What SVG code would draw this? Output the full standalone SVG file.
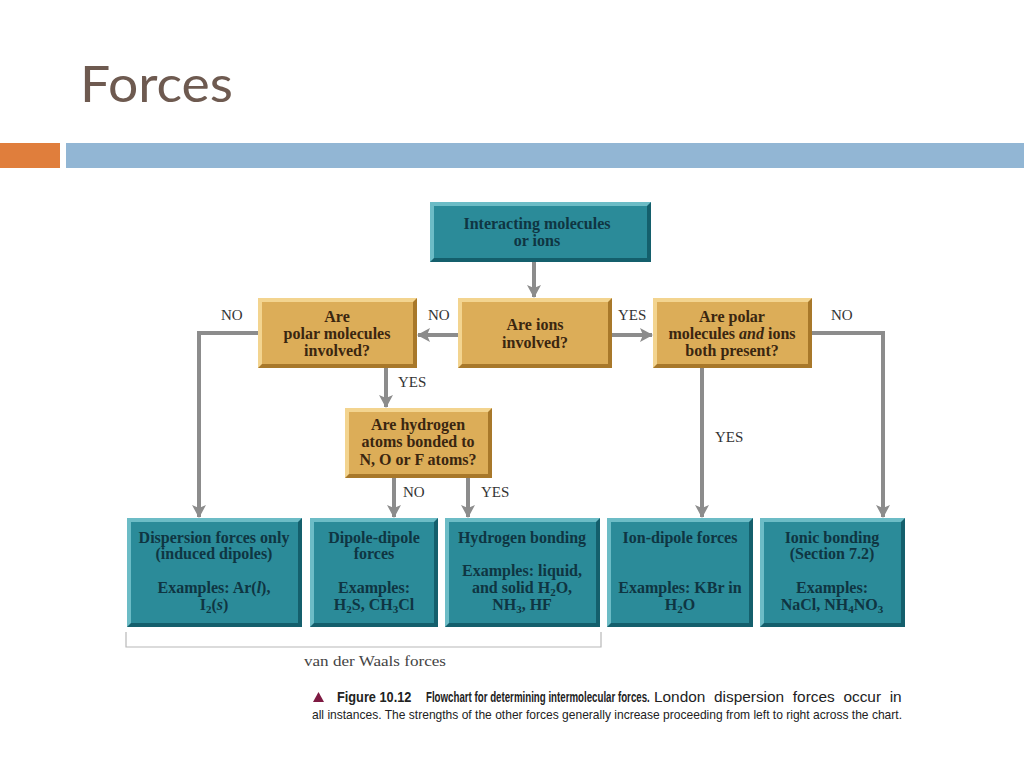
<svg xmlns="http://www.w3.org/2000/svg" width="1024" height="768" viewBox="0 0 1024 768">
<defs>
<marker id="ah" markerUnits="userSpaceOnUse" markerWidth="14" markerHeight="14" refX="12" refY="7" orient="auto">
<path d="M0,0 L13,7 L0,14 L3,7 Z" fill="#8c8c8c"/>
</marker>
</defs>
<style>
.tf{fill:#2b8b99}.th{fill:#6cbcc6}.ts{fill:#145f6c}
.gf{fill:#dcad58}.gh{fill:#f3d48f}.gs{fill:#a8782a}
.tt{font-family:"Liberation Serif",serif;font-weight:bold;font-size:16px;fill:#0f3542;text-anchor:middle}
.gt{font-family:"Liberation Serif",serif;font-weight:bold;font-size:16px;fill:#3a2610;text-anchor:middle}
.lbl{font-family:"Liberation Serif",serif;font-size:15px;fill:#333}
.con{fill:none;stroke:#8c8c8c;stroke-width:4}
.sub{font-size:11px}
</style>
<rect width="1024" height="768" fill="#fff"/>
<text x="80" y="102" font-family="Lato, sans-serif" font-size="50" fill="#6e5a50" textLength="153" lengthAdjust="spacingAndGlyphs">Forces</text>
<rect x="0" y="143" width="60" height="25" fill="#e07e3c"/>
<rect x="66" y="143" width="958" height="25" fill="#92b6d4"/>

<g id="connectors">
<path class="con" d="M534,262 V297" marker-end="url(#ah)"/>
<path class="con" d="M458,335 H418" marker-end="url(#ah)"/>
<path class="con" d="M612,335 H652" marker-end="url(#ah)"/>
<path class="con" d="M258,333 H199 V517" marker-end="url(#ah)"/>
<path class="con" d="M386,368 V407" marker-end="url(#ah)"/>
<path class="con" d="M394,478 V517" marker-end="url(#ah)"/>
<path class="con" d="M468,478 V517" marker-end="url(#ah)"/>
<path class="con" d="M702,368 V517" marker-end="url(#ah)"/>
<path class="con" d="M812,333 H883 V517" marker-end="url(#ah)"/>
<text class="lbl" x="221" y="320">NO</text>
<text class="lbl" x="428" y="320">NO</text>
<text class="lbl" x="618" y="320">YES</text>
<text class="lbl" x="831" y="320">NO</text>
<text class="lbl" x="398" y="387">YES</text>
<text class="lbl" x="403" y="497">NO</text>
<text class="lbl" x="481" y="497">YES</text>
<text class="lbl" x="715" y="442">YES</text>
</g>

<g id="n-start">
<rect class="ts" x="430" y="202" width="221" height="60"/>
<polygon class="th" points="430,202 651,202 647,206 434,206 434,258 430,262"/>
<rect class="tf" x="434" y="206" width="213" height="52"/>
<text class="tt" x="537" y="229">Interacting molecules</text>
<text class="tt" x="537" y="246">or ions</text>
</g>

<g id="n-polar">
<rect class="gs" x="258" y="298" width="159" height="70"/>
<polygon class="gh" points="258,298 417,298 413,302 262,302 262,364 258,368"/>
<rect class="gf" x="262" y="302" width="151" height="62"/>
<text class="gt" x="337" y="322">Are</text>
<text class="gt" x="337" y="339">polar molecules</text>
<text class="gt" x="337" y="356">involved?</text>
</g>

<g id="n-ions">
<rect class="gs" x="458" y="298" width="154" height="70"/>
<polygon class="gh" points="458,298 612,298 608,302 462,302 462,364 458,368"/>
<rect class="gf" x="462" y="302" width="146" height="62"/>
<text class="gt" x="535" y="330">Are ions</text>
<text class="gt" x="535" y="348">involved?</text>
</g>

<g id="n-both">
<rect class="gs" x="653" y="298" width="159" height="70"/>
<polygon class="gh" points="653,298 812,298 808,302 657,302 657,364 653,368"/>
<rect class="gf" x="657" y="302" width="151" height="62"/>
<text class="gt" x="732" y="322">Are polar</text>
<text class="gt" x="732" y="339">molecules <tspan font-style="italic">and</tspan> ions</text>
<text class="gt" x="732" y="356">both present?</text>
</g>

<g id="n-hydrogen">
<rect class="gs" x="345" y="408" width="147" height="70"/>
<polygon class="gh" points="345,408 492,408 488,412 349,412 349,474 345,478"/>
<rect class="gf" x="349" y="412" width="139" height="62"/>
<text class="gt" x="418" y="430">Are hydrogen</text>
<text class="gt" x="418" y="447">atoms bonded to</text>
<text class="gt" x="418" y="465">N, O or F atoms?</text>
</g>

<g id="n-dispersion">
<rect class="ts" x="127" y="518" width="175" height="109"/>
<polygon class="th" points="127,518 302,518 298,522 131,522 131,623 127,627"/>
<rect class="tf" x="131" y="522" width="167" height="101"/>
<text class="tt" x="214" y="543">Dispersion forces only</text>
<text class="tt" x="214" y="559">(induced dipoles)</text>
<text class="tt" x="214" y="593">Examples: Ar(<tspan font-style="italic">l</tspan>),</text>
<text class="tt" x="214" y="610">I<tspan class="sub" dy="3">2</tspan><tspan dy="-3">(</tspan><tspan font-style="italic">s</tspan>)</text>
</g>

<g id="n-dipole">
<rect class="ts" x="310" y="518" width="128" height="109"/>
<polygon class="th" points="310,518 438,518 434,522 314,522 314,623 310,627"/>
<rect class="tf" x="314" y="522" width="120" height="101"/>
<text class="tt" x="374" y="543">Dipole-dipole</text>
<text class="tt" x="374" y="559">forces</text>
<text class="tt" x="374" y="593">Examples:</text>
<text class="tt" x="374" y="610">H<tspan class="sub" dy="3">2</tspan><tspan dy="-3">S, CH</tspan><tspan class="sub" dy="3">3</tspan><tspan dy="-3">Cl</tspan></text>
</g>

<g id="n-hbond">
<rect class="ts" x="445" y="518" width="155" height="109"/>
<polygon class="th" points="445,518 600,518 596,522 449,522 449,623 445,627"/>
<rect class="tf" x="449" y="522" width="147" height="101"/>
<text class="tt" x="522" y="543">Hydrogen bonding</text>
<text class="tt" x="522" y="576">Examples: liquid,</text>
<text class="tt" x="522" y="593">and solid H<tspan class="sub" dy="3">2</tspan><tspan dy="-3">O,</tspan></text>
<text class="tt" x="522" y="610">NH<tspan class="sub" dy="3">3</tspan><tspan dy="-3">, HF</tspan></text>
</g>

<g id="n-iondipole">
<rect class="ts" x="607" y="518" width="146" height="109"/>
<polygon class="th" points="607,518 753,518 749,522 611,522 611,623 607,627"/>
<rect class="tf" x="611" y="522" width="138" height="101"/>
<text class="tt" x="680" y="543">Ion-dipole forces</text>
<text class="tt" x="680" y="593">Examples: KBr in</text>
<text class="tt" x="680" y="610">H<tspan class="sub" dy="3">2</tspan><tspan dy="-3">O</tspan></text>
</g>

<g id="n-ionic">
<rect class="ts" x="760" y="518" width="145" height="109"/>
<polygon class="th" points="760,518 905,518 901,522 764,522 764,623 760,627"/>
<rect class="tf" x="764" y="522" width="137" height="101"/>
<text class="tt" x="832" y="543">Ionic bonding</text>
<text class="tt" x="832" y="559">(Section 7.2)</text>
<text class="tt" x="832" y="593">Examples:</text>
<text class="tt" x="832" y="610">NaCl, NH<tspan class="sub" dy="3">4</tspan><tspan dy="-3">NO</tspan><tspan class="sub" dy="3">3</tspan></text>
</g>

<g id="bracket">
<path d="M126,632 V647 H601 V632" fill="none" stroke="#b8b8b8" stroke-width="1.2"/>
<text x="304" y="666" font-family="Liberation Serif, serif" font-size="14" fill="#444" textLength="142" lengthAdjust="spacingAndGlyphs">van der Waals forces</text>
</g>

<g id="caption" font-family="Liberation Sans, sans-serif" font-size="13.5" fill="#222">
<polygon points="313,702 318.5,692 324,702" fill="#7e1a42"/>
<text transform="translate(337,702) scale(0.88,1)" font-weight="bold" font-size="14.5">Figure 10.12</text>
<text transform="translate(426,702) scale(0.67,1)" font-weight="bold" font-size="14.5">Flowchart for determining intermolecular forces.</text>
<text transform="translate(654,702) scale(1.1,1)" font-size="14" word-spacing="4">London dispersion forces occur in</text>
<text x="312" y="719" textLength="590" lengthAdjust="spacingAndGlyphs">all instances. The strengths of the other forces generally increase proceeding from left to right across the chart.</text>
</g>
</svg>
